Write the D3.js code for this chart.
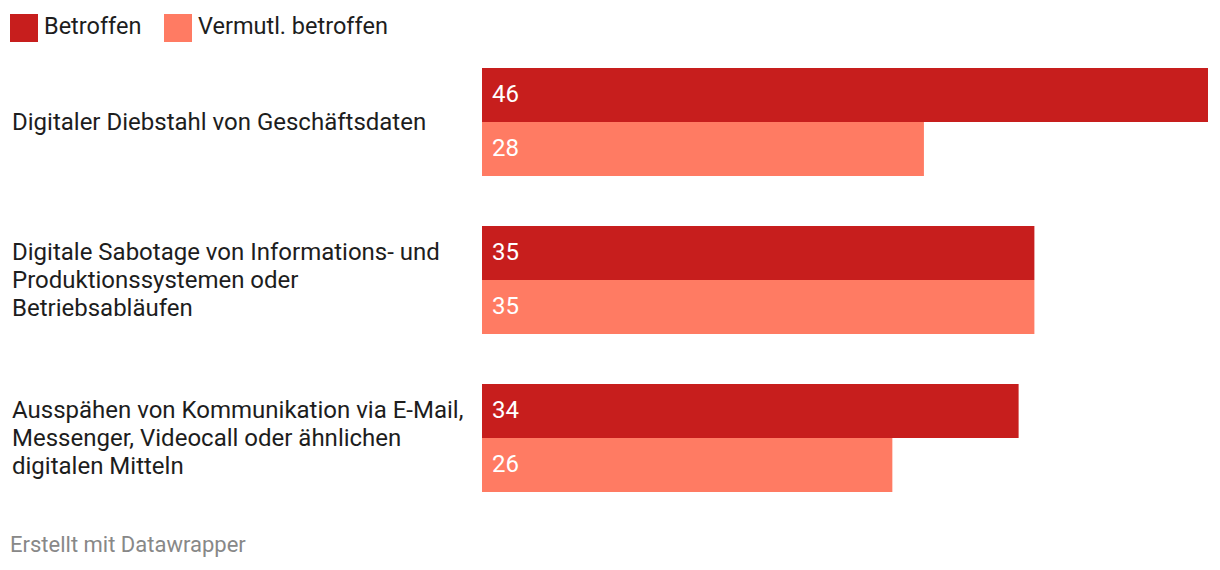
<!DOCTYPE html>
<html><head><meta charset="utf-8">
<script src="https://cdn.jsdelivr.net/npm/d3@7"></script>
<style>
html,body{margin:0;padding:0;background:#fff;}
svg text{font-family:Roboto,"Noto Sans",sans-serif;}
</style></head>
<body>
<svg id="c" width="1220" height="570"></svg>
<script>
const categories = [
  ["Digitaler Diebstahl von Geschäftsdaten"],
  ["Digitale Sabotage von Informations- und", "Produktionssystemen oder", "Betriebsabläufen"],
  ["Ausspähen von Kommunikation via E-Mail,", "Messenger, Videocall oder ähnlichen", "digitalen Mitteln"]
];
const seriesNames = ["Betroffen", "Vermutl. betroffen"];
const betroffen = [46, 35, 34];
const vermutlich = [28, 35, 26];
const colors = ["#c71e1d", "#ff7b63"];

const svg = d3.select("#c");
const x = d3.scaleLinear().domain([0, 46]).range([482, 1208]);
const yb = i => 68 + i * 158;
const sub = d3.scaleBand().domain([0,1]).range([0,108]);

const legX = [10, 164];
seriesNames.forEach((n, i) => {
  svg.append("rect").attr("x", legX[i]).attr("y", 14).attr("width", 28).attr("height", 28).attr("fill", colors[i]);
  svg.append("text").attr("x", legX[i] + 34).attr("y", 34).attr("font-size", 23.5).attr("fill", "#1d1d1d").text(n);
});

const data = [betroffen, vermutlich];
categories.forEach((lines, i) => {
  const g = svg.append("g");
  const cy = yb(i) + 54;
  const lh = 28;
  const start = cy - (lines.length - 1) * lh / 2;
  lines.forEach((l, j) => {
    g.append("text").attr("x", 12).attr("y", start + j * lh).attr("dy", "0.35em")
      .attr("font-size", 24).attr("fill", "#1d1d1d").text(l);
  });
  data.forEach((s, k) => {
    const by = yb(i) + sub(k);
    g.append("rect").attr("x", x(0)).attr("y", by).attr("width", x(s[i]) - x(0)).attr("height", sub.bandwidth()).attr("fill", colors[k]);
    g.append("text").attr("x", x(0) + 10).attr("y", by + sub.bandwidth() / 2 - 1).attr("dy", "0.35em")
      .attr("font-size", 24).attr("fill", "#fff").text(s[i]);
  });
});

svg.append("text").attr("x", 10).attr("y", 552).attr("font-size", 22).attr("fill", "#888").text("Erstellt mit Datawrapper");
</script>
</body></html>
